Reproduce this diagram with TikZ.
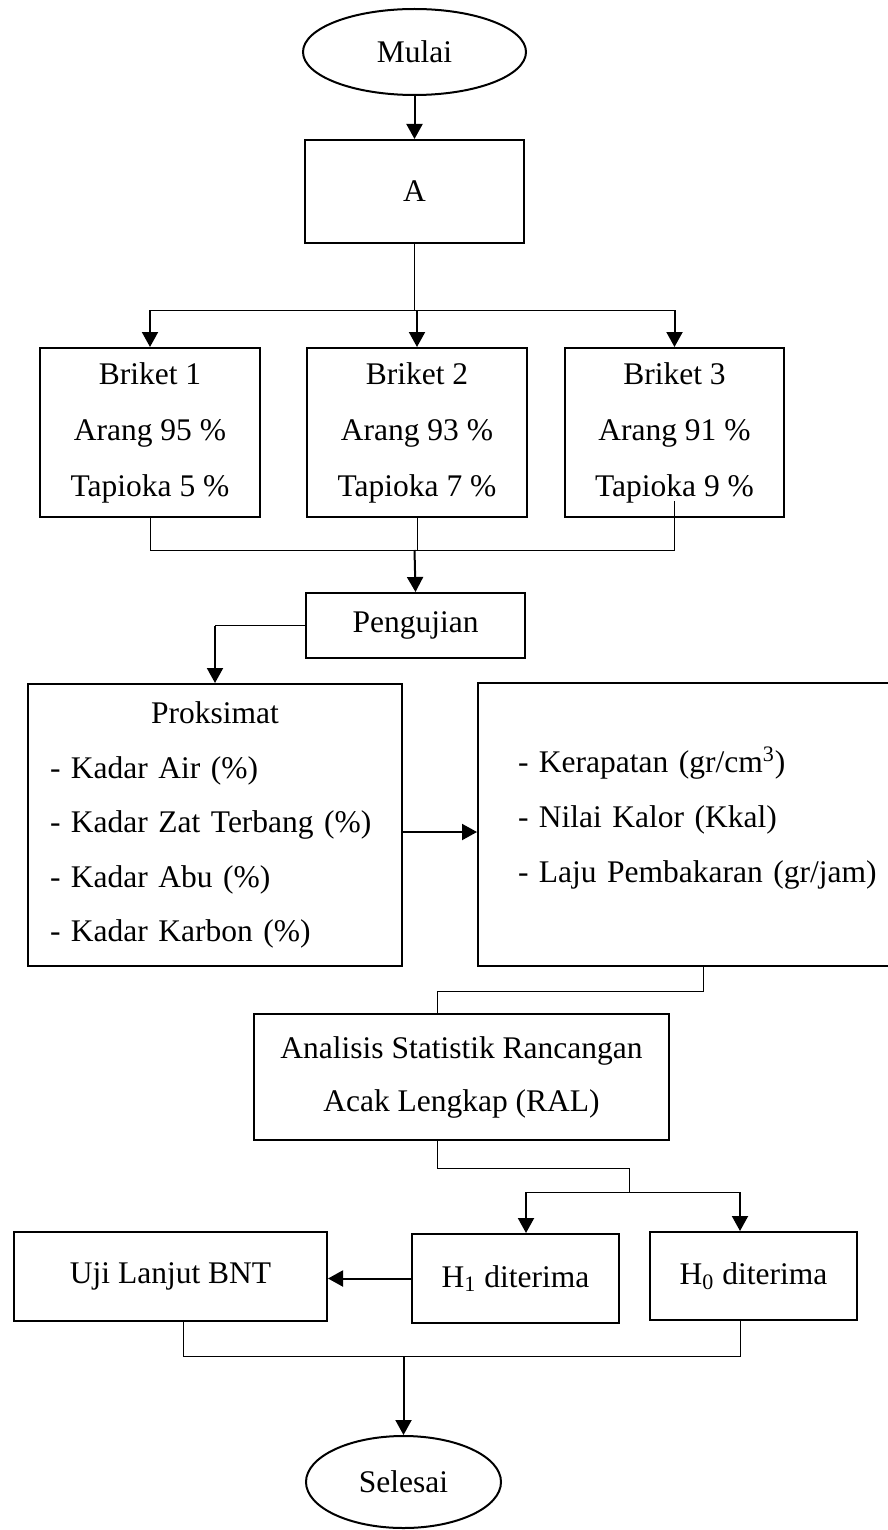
\documentclass[tikz,border=0pt]{standalone}
\usepackage{fontspec}
\setmainfont{Liberation Serif}
\usepackage{tikz}
\usetikzlibrary{shapes,shapes.geometric}
\usetikzlibrary{calc,arrows.meta,positioning}

\begin{document}
\begin{tikzpicture}[x=0.5pt,y=-0.5pt,
		kotak/.style={draw,line width=1pt,rectangle,inner sep=0pt},
		oval/.style={draw,line width=1pt,ellipse,inner sep=0pt},
		garis/.style={line width=0.5pt},
		panah/.style={line width=1pt,-{Triangle[length=7.5pt,width=8pt]}},
		every node/.style={font=\fontsize{15.75}{28}\selectfont}]
		\useasboundingbox (0,0) rectangle (888,1530);
		\node[oval,minimum width=111.5pt,minimum height=43pt] (mulai) at (414.5,52) {Mulai};
		\node[kotak,minimum width=109.5pt,minimum height=51.5pt] (a) at (414.5,191.5) {A};
		\node[kotak,minimum width=110pt,minimum height=84.5pt,align=center] (b1) at (150,432.5) {Briket 1\\Arang 95 \%\\Tapioka 5 \%};
		\node[kotak,minimum width=110pt,minimum height=84.5pt,align=center] (b2) at (417,432.5) {Briket 2\\Arang 93 \%\\Tapioka 7 \%};
		\node[kotak,minimum width=109.5pt,minimum height=84.5pt,align=center] (b3) at (674.5,432.5) {Briket 3\\Arang 91 \%\\Tapioka 9 \%};
		\node[kotak,minimum width=109.5pt,minimum height=32.5pt] (pengujian) at (415.5,625.5) {Pengujian};
		\node[kotak,minimum height=141pt,text width=165pt,inner xsep=11pt,align=left,font=\fontsize{15.75}{27.25}\selectfont] (proksimat) at (215,825) {\makebox[\linewidth]{Proksimat}\\- Kadar Air (\%)\\- Kadar Zat Terbang (\%)\\- Kadar Abu (\%)\\- Kadar Karbon (\%)};
		\node[kotak,anchor=west,minimum height=141.5pt,text width=190pt,inner xsep=20pt,align=left,font=\fontsize{15.75}{27.5}\selectfont] (ukur) at (477,824.5) {- Kerapatan (gr/cm\textsuperscript{3})\\- Nilai Kalor (Kkal)\\- Laju Pembakaran (gr/jam)\rule[-10pt]{0pt}{0pt}};
		\node[kotak,minimum width=207.5pt,minimum height=63pt,align=center,font=\fontsize{15.75}{26.5}\selectfont] (ral) at (461.5,1077) {Analisis Statistik Rancangan\\Acak Lengkap (RAL)};
		\node[kotak,minimum width=103.5pt,minimum height=44.5pt] (h1) at (515.5,1278.5) {H\textsubscript{1} diterima};
		\node[kotak,minimum width=103.5pt,minimum height=44pt] (h0) at (753.5,1276) {H\textsubscript{0} diterima};
		\node[kotak,minimum width=156.5pt,minimum height=44.5pt] (bnt) at (170.5,1276.5) {Uji Lanjut BNT};
		\node[oval,minimum width=97.5pt,minimum height=46pt] (selesai) at (403.5,1482) {Selesai};
		
		\draw[panah] (mulai.south) -- (a.north);
		\coordinate (bagi) at (414.5,310);
		\draw[garis] (a.south) -- (bagi);
		\draw[garis] (b1.north |- bagi) -- (b3.north |- bagi);
		\foreach \b in {b1,b2,b3}
			\draw[panah] (\b.north |- bagi) -- (\b.north);
		
		\coordinate (gabung) at (414.5,550);
		\draw[garis] (b1.south) -- (b1.south |- gabung) -- (b3.south |- gabung) -- ($(b3.south)+(0,-17)$);
		\draw[garis] (b2.south) -- (b2.south |- gabung);
		\draw[panah] (gabung) -- (pengujian.north);
		
		\coordinate (belok) at (proksimat.north |- pengujian.west);
		\draw[garis] (pengujian.west) -- (belok);
		\draw[panah] (belok) -- (proksimat.north);
		\draw[panah] ([yshift=-3.5pt]proksimat.east) -- ([yshift=-3.5pt]proksimat.east -| ukur.west);
		
		\coordinate (k1) at (703,991);
		\coordinate (k2) at (437,991);
		\draw[garis] (k1 |- ukur.south) -- (k1) -- (k2) -- (k2 |- ral.north);
		
		\coordinate (c1) at (437,1168);
		\coordinate (c2) at (629,1168);
		\coordinate (c3) at (629,1192);
		\coordinate (p1) at (526,1192);
		\coordinate (p0) at (740,1192);
		\draw[garis] (c1 |- ral.south) -- (c1) -- (c2) -- (c3);
		\draw[garis] (p1) -- (p0);
		\draw[panah] (p1) -- (p1 |- h1.north);
		\draw[panah] (p0) -- (p0 |- h0.north);
		\draw[panah] (h1.west) -- (h1.west -| bnt.east);
		
		\coordinate (q1) at (183,1356);
		\coordinate (q0) at (740,1356);
		\coordinate (turun) at (403.5,1356);
		\draw[garis] (q1 |- bnt.south) -- (q1) -- (q0) -- (q0 |- h0.south);
		\draw[panah] (turun) -- (selesai.north);
\end{tikzpicture}
\end{document}
